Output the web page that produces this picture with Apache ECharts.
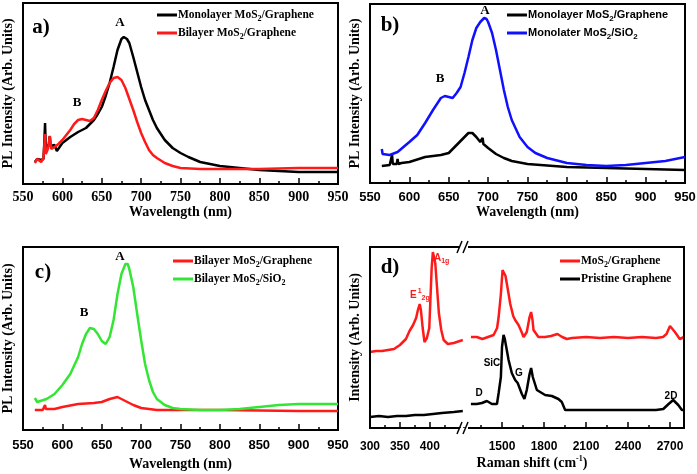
<!DOCTYPE html>
<html><head><meta charset="utf-8">
<script src="https://cdn.jsdelivr.net/npm/echarts@6/dist/echarts.min.js"></script>
<style>html,body{margin:0;padding:0;background:#fff}#c{width:697px;height:474px}</style>
</head><body><div id="c"></div>
<script>
// ---------- DATA (intensity in arbitrary units) ----------
const plTicks = [550, 600, 650, 700, 750, 800, 850, 900, 950];
const ramanLowTicks = [300, 350, 400];
const ramanLowRange = [300, 457];
const ramanHighTicks = [1500, 1800, 2100, 2400, 2700];
const ramanHighRange = [1200, 2800];

// (a) PL, MoS2 on graphene
const aMonoGr = [[565,22],[568,25],[570,23],[573,24],[576,25],[577,40],[578,61],[579,35],[581,33],[583,40],[584,48],[585,38],[587,36],[590,39],[593,33],[595,34],[600,41],[610,47],[620,52],[630,56],[640,64],[645,70],[650,77],[655,88],[660,101],[665,117],[670,134],[675,145],[678,147],[682,145],[685,141],[690,127],[695,112],[700,97],[705,84],[710,74],[715,64],[720,56],[730,44],[740,36],[750,31],[760,27],[775,22],[800,18],[825,16],[850,14],[900,12],[950,12]];
const aBiGr = [[565,21],[568,25],[570,24],[573,22],[576,26],[578,50],[579,30],[582,36],[584,48],[586,35],[590,37],[595,40],[600,44],[610,54],[615,60],[620,64],[625,65],[630,64],[635,63],[640,66],[645,74],[650,84],[655,93],[660,101],[665,106],[670,107],[675,104],[680,96],[685,85],[690,74],[695,62],[700,51],[705,42],[710,34],[715,29],[720,26],[730,21],[740,18],[750,16],[775,15],[800,15],[850,15],[900,16],[950,16]];

// (b) PL, monolayer
const bMonoGr = [[565,17],[575,18],[577,19],[578,28],[579,19],[584,19],[585,24],[586,19],[590,20],[600,21],[620,26],[640,28],[650,30],[660,38],[670,46],[675,50],[680,50],[685,46],[690,41],[692,40],[693,45],[694,39],[700,35],[710,29],[720,25],[730,22],[750,19],[800,16],[850,15],[900,14],[950,13]];
const bMonoSiO2 = [[565,34],[566,29],[568,27],[575,28],[585,31],[600,41],[610,48],[620,60],[630,73],[640,85],[645,87],[650,86],[655,85],[660,90],[665,96],[670,110],[675,126],[680,143],[685,155],[690,161],[695,165],[698,164],[700,161],[705,150],[710,133],[715,113],[720,93],[725,76],[730,63],[740,46],[750,36],[760,30],[775,25],[800,20],[825,18],[850,17],[875,18],[900,20],[925,22],[950,26]];

// (c) PL, bilayer
const cBiGr = [[565,20],[575,20],[577,21],[578,25],[579,21],[590,21],[600,23],[620,26],[640,27],[650,28],[660,31],[670,33],[675,31],[680,29],[690,25],[700,22],[720,20],[750,20],[800,20],[900,19],[950,19]];
const cBiSiO2 = [[565,32],[568,28],[580,31],[590,36],[600,45],[610,56],[620,73],[625,86],[630,96],[635,102],[640,101],[645,96],[650,89],[655,86],[660,93],[665,110],[670,136],[675,156],[680,166],[683,166],[685,161],[690,143],[695,116],[700,90],[705,66],[710,50],[715,38],[720,31],[730,25],[740,22],[750,21],[775,20],[800,20],[825,21],[850,23],[875,25],[900,26],[925,26],[950,26]];

// (d) Raman
const dMoSGrLow = [[300,76],[310,77],[320,77],[330,78],[340,79],[350,83],[360,89],[366,97],[372,103],[377,110],[380,118],[383,124],[385,118],[388,100],[391,86],[395,90],[399,100],[401,130],[403,160],[405,176],[407,174],[409,165],[412,140],[415,115],[419,98],[423,88],[430,84],[440,85],[450,87],[455,88]];
const dGrLow = [[300,11],[315,12],[330,11],[345,12],[360,12],[375,13],[390,13],[405,14],[420,15],[440,16],[455,17]];
const dMoSGrHigh = [[1278,91],[1320,91],[1360,89],[1400,91],[1440,93],[1465,100],[1476,111],[1492,134],[1504,158],[1516,159],[1525,152],[1535,144],[1559,124],[1580,112],[1594,108],[1618,103],[1640,96],[1654,91],[1677,96],[1697,111],[1708,116],[1718,108],[1725,98],[1760,91],[1808,91],[1850,92],[1896,94],[1930,91],[1963,89],[2000,90],[2100,91],[2200,90],[2300,91],[2400,90],[2500,91],[2600,90],[2650,91],[2675,94],[2700,102],[2711,104],[2735,96],[2770,89],[2800,91]];
const dGrHigh = [[1278,24],[1320,24],[1357,25],[1392,27],[1428,24],[1464,24],[1476,35],[1492,51],[1500,81],[1511,93],[1520,89],[1547,68],[1570,55],[1594,48],[1612,45],[1642,34],[1660,29],[1677,38],[1697,54],[1708,60],[1720,51],[1749,38],[1808,33],[1856,32],[1903,29],[1927,26],[1951,18],[2000,18],[2300,18],[2600,18],[2652,19],[2690,24],[2723,28],[2759,23],[2785,18],[2800,18]];

// ---------- STYLE ----------
const SERIF = '"Liberation Serif","Times New Roman",serif';
const SANS = '"Liberation Sans",Arial,sans-serif';
const RED = '#ff1a1a', BLACK = '#000000', BLUE = '#1010ff', GREEN = '#33e633';
const LW = 2.5;

function richSet(fam) {
  return {
    s: {fontFamily: fam, fontWeight: 'bold', fontSize: 8, lineHeight: 8, padding: [8, 0, 0, 0], color: '#000'},
    sup: {fontFamily: fam, fontWeight: 'bold', fontSize: 8, lineHeight: 8, padding: [0, 0, 8, 0], color: '#000'}
  };
}
function subFmt(name) { return name.replace(/(MoS|SiO)2/g, '$1{s|2}'); }
function tickFmt(list) { return function (v) { return list.indexOf(v) >= 0 ? String(v) : ''; }; }

const pl = {min: plTicks[0], max: plTicks[plTicks.length - 1], interval: plTicks[1] - plTicks[0]};
const tickStyle = {show: true, inside: true, length: 6, lineStyle: {color: '#000', width: 1.5}};
const minorStyle = {show: true, splitNumber: 2, length: 3, lineStyle: {color: '#000', width: 1.5}};

function xAxisPL(grid, fam, size, margin, gap) {
  return {
    type: 'value', gridIndex: grid, min: pl.min, max: pl.max, interval: pl.interval,
    axisLine: {show: false}, axisTick: tickStyle, minorTick: minorStyle,
    splitLine: {show: false}, minorSplitLine: {show: false},
    axisLabel: {color: '#000', fontFamily: fam, fontWeight: 'bold', fontSize: size, margin: margin, formatter: tickFmt(plTicks)},
    name: 'Wavelength (nm)', nameLocation: 'middle', nameGap: gap,
    nameTextStyle: {color: '#000', fontFamily: SERIF, fontWeight: 'bold', fontSize: 14}
  };
}
function yAxisHidden(grid, h, name) {
  const o = {
    type: 'value', gridIndex: grid, min: 0, max: h,
    axisLine: {show: false}, axisTick: {show: false}, axisLabel: {show: false}, splitLine: {show: false}
  };
  if (name) {
    o.name = name; o.nameLocation = 'middle'; o.nameGap = 8;
    o.nameTextStyle = {color: '#000', fontFamily: SERIF, fontWeight: 'bold', fontSize: 14};
  }
  return o;
}
function line(name, data, color, xi, yi) {
  return {type: 'line', name: name, data: data, xAxisIndex: xi, yAxisIndex: yi,
    symbol: 'none', showSymbol: false, lineStyle: {color: color, width: LW}, itemStyle: {color: color},
    animation: false, silent: true};
}
function legend(names, left, top, fam, size) {
  return {
    orient: 'vertical', left: left, top: top, data: names, icon: 'rect', itemWidth: 20, itemHeight: 3, itemGap: 2,
    selectedMode: false, padding: 0,
    formatter: subFmt,
    textStyle: {color: '#000', fontFamily: fam, fontWeight: 'bold', fontSize: size, lineHeight: 16, padding: [0, 0, 0, -4],
      rich: richSet(fam)}
  };
}
function gtext(x, y, text, fam, size, color, align, rich) {
  return {type: 'text', x: x, y: y, z: 100, silent: true,
    style: {text: text, fontFamily: fam, fontWeight: 'bold', fontSize: size, fill: color || '#000',
      align: align || 'center', verticalAlign: 'middle', rich: rich}};
}

const gridBase = {show: true, borderColor: '#000', borderWidth: 2, backgroundColor: 'transparent', outerBoundsMode: 'none', containLabel: false};

const option = {
  animation: false,
  backgroundColor: '#fff',
  grid: [
    Object.assign({left: 23, top: 3, width: 315, height: 181}, gridBase),
    Object.assign({left: 370, top: 4, width: 315, height: 179}, gridBase),
    Object.assign({left: 23, top: 247, width: 315, height: 183}, gridBase),
    {left: 370, top: 247, width: 94, height: 181, show: false, outerBoundsMode: 'none', containLabel: false},
    {left: 460, top: 247, width: 224, height: 181, show: false, outerBoundsMode: 'none', containLabel: false}
  ],
  xAxis: [
    xAxisPL(0, SERIF, 14, 6, 20),
    xAxisPL(1, SANS, 13, 8, 21),
    xAxisPL(2, SANS, 13, 9, 27),
    {
      type: 'value', gridIndex: 3, min: ramanLowRange[0], max: ramanLowRange[1], interval: ramanLowTicks[1] - ramanLowTicks[0],
      axisLine: {show: false}, axisTick: tickStyle, minorTick: minorStyle, splitLine: {show: false},
      axisLabel: {color: '#000', fontFamily: SANS, fontWeight: 'bold', fontSize: 12, margin: 13, formatter: tickFmt(ramanLowTicks)}
    },
    {
      type: 'value', gridIndex: 4, min: ramanHighRange[0], max: ramanHighRange[1], interval: ramanHighTicks[1] - ramanHighTicks[0],
      axisLine: {show: false}, axisTick: tickStyle, minorTick: minorStyle, splitLine: {show: false},
      axisLabel: {color: '#000', fontFamily: SANS, fontWeight: 'bold', fontSize: 12, margin: 13, formatter: tickFmt(ramanHighTicks)}
    }
  ],
  yAxis: [
    yAxisHidden(0, 181, 'PL Intensity (Arb. Units)'),
    yAxisHidden(1, 179, 'PL Intensity (Arb. Units)'),
    yAxisHidden(2, 183, 'PL Intensity (Arb. Units)'),
    yAxisHidden(3, 181, 'Intensity (Arb. Units)'),
    yAxisHidden(4, 181)
  ],
  legend: [
    legend(['Monolayer MoS2/Graphene', 'Bilayer MoS2/Graphene'], 157, 7, SERIF, 11.5),
    legend(['Monolayer MoS2/Graphene', 'Monolater MoS2/SiO2'], 507, 7, SANS, 11),
    legend(['Bilayer MoS2/Graphene', 'Bilayer MoS2/SiO2'], 173, 253, SERIF, 11.5),
    legend(['MoS2/Graphene', 'Pristine Graphene'], 560, 253, SERIF, 11.5)
  ],
  series: [
    line('Monolayer MoS2/Graphene', aMonoGr, BLACK, 0, 0),
    line('Bilayer MoS2/Graphene', aBiGr, RED, 0, 0),
    line('Monolayer MoS2/Graphene', bMonoGr, BLACK, 1, 1),
    line('Monolater MoS2/SiO2', bMonoSiO2, BLUE, 1, 1),
    line('Bilayer MoS2/Graphene', cBiGr, RED, 2, 2),
    line('Bilayer MoS2/SiO2', cBiSiO2, GREEN, 2, 2),
    line('MoS2/Graphene', dMoSGrLow, RED, 3, 3),
    line('Pristine Graphene', dGrLow, BLACK, 3, 3),
    line('MoS2/Graphene', dMoSGrHigh, RED, 4, 4),
    line('Pristine Graphene', dGrHigh, BLACK, 4, 4)
  ],
  graphic: [
    // panel (d) frame with axis break
    {type: 'polyline', z: 50, silent: true, shape: {points: [[459, 247], [370, 247], [370, 428], [459, 428]]}, style: {stroke: '#000', lineWidth: 2, fill: null}},
    {type: 'polyline', z: 50, silent: true, shape: {points: [[468, 247], [684, 247], [684, 428], [468, 428]]}, style: {stroke: '#000', lineWidth: 2, fill: null}},
    {type: 'rect', z: 49, silent: true, shape: {x: 456, y: 418, width: 13, height: 9}, style: {fill: '#fff'}},
    {type: 'line', z: 51, silent: true, shape: {x1: 457, y1: 253, x2: 462, y2: 241}, style: {stroke: '#000', lineWidth: 1.5}},
    {type: 'line', z: 51, silent: true, shape: {x1: 463, y1: 253, x2: 468, y2: 241}, style: {stroke: '#000', lineWidth: 1.5}},
    {type: 'line', z: 51, silent: true, shape: {x1: 457, y1: 434, x2: 462, y2: 422}, style: {stroke: '#000', lineWidth: 1.5}},
    {type: 'line', z: 51, silent: true, shape: {x1: 463, y1: 434, x2: 468, y2: 422}, style: {stroke: '#000', lineWidth: 1.5}},
    // panel tags
    gtext(41, 28, 'a)', SERIF, 21),
    gtext(390, 26, 'b)', SERIF, 21),
    gtext(43, 273, 'c)', SERIF, 21),
    gtext(390, 268, 'd)', SERIF, 21),
    // peak labels
    gtext(120, 23, 'A', SERIF, 13), gtext(77, 103, 'B', SERIF, 13),
    gtext(485, 11, 'A', SERIF, 13), gtext(440, 79, 'B', SERIF, 13),
    gtext(120, 257, 'A', SERIF, 13), gtext(84, 313, 'B', SERIF, 13),
    gtext(410, 295, '{n|E}{sup|1}{s|2g}', SANS, 10, RED, 'left', {
      n: {fontFamily: SANS, fontWeight: 'bold', fontSize: 10, lineHeight: 14, color: RED},
      sup: {fontFamily: SANS, fontWeight: 'bold', fontSize: 7, lineHeight: 7, padding: [0, 0, 7, 1], color: RED},
      s: {fontFamily: SANS, fontWeight: 'bold', fontSize: 7, lineHeight: 7, padding: [7, 0, 0, 0], color: RED}}),
    gtext(434, 258, '{n|A}{s|1g}', SANS, 10, RED, 'left', {
      n: {fontFamily: SANS, fontWeight: 'bold', fontSize: 10, lineHeight: 14, color: RED},
      s: {fontFamily: SANS, fontWeight: 'bold', fontSize: 7, lineHeight: 7, padding: [7, 0, 0, 0], color: RED}}),
    gtext(492, 363, 'SiC', SANS, 10), gtext(519, 373, 'G', SANS, 10),
    gtext(479, 393, 'D', SANS, 10), gtext(671, 396, '2D', SANS, 10),
    gtext(532, 463, '{n|Raman shift (cm}{sup|-1}{n|)}', SERIF, 14, '#000', 'center', {
      n: {fontFamily: SERIF, fontWeight: 'bold', fontSize: 14, lineHeight: 16, color: '#000'},
      sup: {fontFamily: SERIF, fontWeight: 'bold', fontSize: 8, lineHeight: 8, padding: [0, 0, 8, 0], color: '#000'}})
  ]
};

const chart = echarts.init(document.getElementById('c'), null, {renderer: 'canvas'});
chart.setOption(option);
</script>
</body></html>
